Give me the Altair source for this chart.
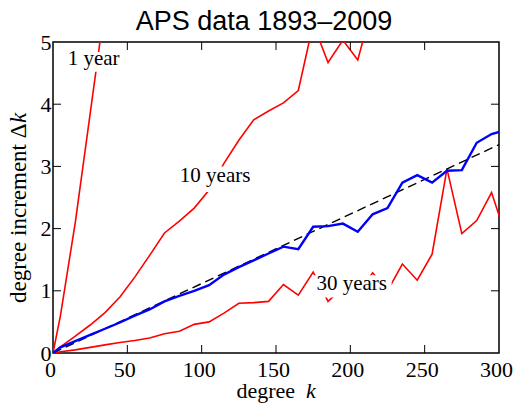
import altair as alt
import pandas as pd

# ---- data ----
k_grid = [0, 5, 15, 25, 35, 45, 55, 65, 75, 85, 95, 105, 115, 125, 135, 145,
          155, 165, 175, 185, 195, 205, 215, 225, 235, 245, 255, 265, 275, 285, 295, 305]

one_year_k = [0, 5, 15, 25, 35]
one_year_v = [0, 0.6, 2.1, 3.85, 5.6]

ten_years_k = k_grid[:23]
ten_years_v = [0, 0.10, 0.27, 0.45, 0.65, 0.90, 1.22, 1.57, 1.93, 2.12, 2.33, 2.62,
               3.05, 3.42, 3.75, 3.89, 4.02, 4.22, 5.29, 4.67, 5.03, 4.71, 5.6]

thirty_years_v = [0, 0.02, 0.05, 0.09, 0.13, 0.17, 0.20, 0.24, 0.31, 0.35, 0.46, 0.50,
                  0.64, 0.80, 0.81, 0.83, 1.10, 0.93, 1.30, 0.83, 1.05, 0.95, 1.29, 1.0,
                  1.43, 1.17, 1.59, 2.96, 1.92, 2.13, 2.58, 1.85]

all_years_v = [0, 0.09, 0.19, 0.29, 0.39, 0.49, 0.60, 0.70, 0.83, 0.92, 1.00, 1.09,
               1.26, 1.38, 1.49, 1.60, 1.71, 1.67, 2.03, 2.04, 2.08, 1.95, 2.23, 2.33,
               2.74, 2.86, 2.74, 2.93, 2.94, 3.38, 3.52, 3.59]

fit_k = [0, 300]
fit_v = [0, 3.35]

x_ticks = [0, 50, 100, 150, 200, 250, 300]
y_ticks = [0, 1, 2, 3, 4, 5]

label_text = ["1 year", "10 years", "30 years"]
label_k = [9.9, 85.3, 177.2]
label_v = [4.63, 2.745, 1.02]
box_k1 = [8.7, 83.3, 175.4]
box_k2 = [46.4, 134.4, 227.8]
box_v1 = [4.52, 2.59, 0.894]
box_v2 = [4.84, 3.0, 1.248]

title_text = "APS data 1893–2009"

# ---- chart ----
W, H = 446, 311
SERIF = "Liberation Serif"

xs = alt.Scale(domain=[0, 300], nice=False, zero=False)
ys = alt.Scale(domain=[0, 5], nice=False, zero=False)
x_axis = alt.Axis(values=x_ticks, title=None, grid=False, domain=False, tickSize=0,
                  labelFont=SERIF, labelFontSize=22, labelColor="black",
                  labelPadding=6, labelFlush=False, labelAngle=0, labelOffset=-3)
y_axis = alt.Axis(values=y_ticks, title=None, grid=False, domain=False, tickSize=0,
                  labelFont=SERIF, labelFontSize=22, labelColor="black",
                  labelPadding=2, labelFlush=False)


def X(field):
    return alt.X(field, type="quantitative", scale=xs, axis=x_axis)


def Y(field):
    return alt.Y(field, type="quantitative", scale=ys, axis=y_axis)


def line(ks, vs, color, width, dash=None):
    df = pd.DataFrame({"k": ks, "v": vs})
    kw = dict(color=color, strokeWidth=width, clip=True)
    if dash:
        kw["strokeDash"] = dash
    return alt.Chart(df).mark_line(**kw).encode(x=X("k"), y=Y("v"))


l1 = line(one_year_k, one_year_v, "#ff0000", 1.6)
l10 = line(ten_years_k, ten_years_v, "#ff0000", 1.6)
l30 = line(k_grid, thirty_years_v, "#ff0000", 1.6)
lfit = line(fit_k, fit_v, "black", 1.4, [9, 5])
lall = line(k_grid, all_years_v, "#0000ff", 2.4)

labels = pd.DataFrame({"text": label_text, "k": label_k, "v": label_v,
                       "k1": box_k1, "k2": box_k2, "v1": box_v1, "v2": box_v2})
boxes = alt.Chart(labels).mark_rect(fill="white").encode(
    x=X("k1"), x2="k2", y=Y("v1"), y2="v2")
texts = alt.Chart(labels).mark_text(align="left", baseline="alphabetic", font=SERIF,
                                    fontSize=21, color="black").encode(
    x=X("k"), y=Y("v"), text="text:N")

# inward ticks on all four sides
xt = pd.DataFrame({"k": x_ticks[1:-1]})
yt = pd.DataFrame({"v": y_ticks[1:-1]})
tick_style = dict(color="black", strokeWidth=1)
tb = alt.Chart(xt).mark_rule(**tick_style).encode(x=X("k"), y=alt.value(H), y2=alt.value(H - 8))
tt = alt.Chart(xt).mark_rule(**tick_style).encode(x=X("k"), y=alt.value(0), y2=alt.value(8))
tl = alt.Chart(yt).mark_rule(**tick_style).encode(y=Y("v"), x=alt.value(0), x2=alt.value(8))
tr = alt.Chart(yt).mark_rule(**tick_style).encode(y=Y("v"), x=alt.value(W), x2=alt.value(W - 8))

# title and axis titles (italic k)
ttl_df = pd.DataFrame({"t": [title_text]})
ttl = alt.Chart(ttl_df).mark_text(align="center", baseline="alphabetic",
                                  font="Liberation Sans", fontSize=27, color="black").encode(
    x=alt.value(211), y=alt.value(-12), text="t:N")

xt_df = pd.DataFrame({"a": ["degree"], "b": ["k"]})
xt1 = alt.Chart(xt_df).mark_text(align="right", baseline="alphabetic", font=SERIF,
                                 fontSize=22, color="black").encode(
    x=alt.value(242), y=alt.value(356), text="a:N")
xt2 = alt.Chart(xt_df).mark_text(align="left", baseline="alphabetic", font=SERIF,
                                 fontSize=22, fontStyle="italic", color="black").encode(
    x=alt.value(253), y=alt.value(356), text="b:N")

yt_df = pd.DataFrame({"a": ["degree increment Δ"], "b": ["k"]})
yt1 = alt.Chart(yt_df).mark_text(align="left", baseline="alphabetic", font=SERIF,
                                 fontSize=23, angle=270, color="black").encode(
    x=alt.value(-27), y=alt.value(261), text="a:N")
yt2 = alt.Chart(yt_df).mark_text(align="left", baseline="alphabetic", font=SERIF,
                                 fontSize=23, fontStyle="italic", angle=270, color="black").encode(
    x=alt.value(-27), y=alt.value(81), text="b:N")

chart = alt.layer(
    l1, l10, l30, lfit, lall, boxes, texts, tb, tt, tl, tr, ttl, xt1, xt2, yt1, yt2
).properties(
    width=W, height=H,
    autosize="none",
    padding={"left": 45, "top": 34, "right": 14, "bottom": 50},
    background="white",
).configure_view(stroke="black", strokeWidth=1.5)

chart.save("out.html", embed_options={"renderer": "svg", "actions": False})
